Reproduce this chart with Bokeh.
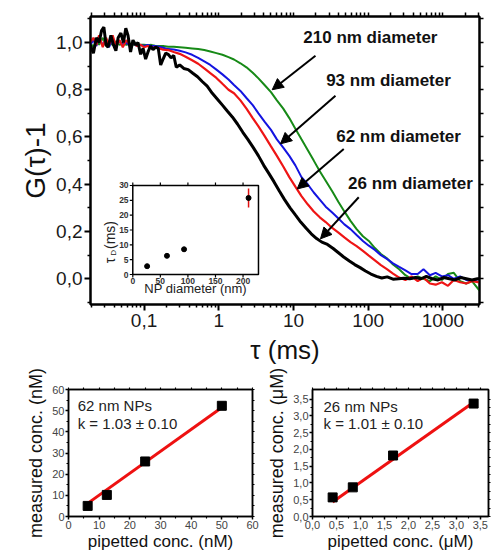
import math
from bokeh.plotting import figure
from bokeh.models import (FixedTicker, CustomJSTickFormatter, LogAxis, LinearAxis, Range1d,
                          LinearScale, Arrow, NormalHead, Label, Title)
from bokeh.layouts import column, row
from bokeh.core.properties import value
from bokeh.embed import file_html
from bokeh.resources import INLINE

FONT = "Liberation Sans"

# ---------------- main FCS curves ----------------
tau_black = [0.019, 0.021, 0.023, 0.025, 0.027, 0.029, 0.031, 0.033, 0.036, 0.039, 0.042, 0.045,
             0.049, 0.053, 0.057, 0.061, 0.066, 0.071, 0.077, 0.083, 0.090, 0.097, 0.105, 0.113,
             0.122, 0.132, 0.143, 0.155, 0.167, 0.18, 0.195, 0.21, 0.23, 0.25, 0.27, 0.30, 0.34,
             0.39, 0.45, 0.52, 0.60, 0.70, 0.82, 0.96, 1.12, 1.3, 1.52, 1.78, 2.1, 2.45, 2.9, 3.4,
             4.0, 4.7, 5.5, 6.5, 7.6, 9.0, 10.6, 12.5, 14.7, 17.3, 20.4, 24, 28.5, 34, 40, 47, 56,
             66, 78, 92, 109, 129, 152, 180, 215, 255, 300, 360, 430, 510, 600, 720, 860, 1020,
             1220, 1450, 1730, 2060, 2450, 2900, 3090]
g_26nm = [0.99, 0.955, 1.02, 1.00, 1.05, 1.065, 0.99, 0.98, 1.03, 0.99, 0.965, 1.02,
          1.04, 1.00, 1.06, 1.03, 0.96, 1.01, 0.99, 1.00, 0.95, 0.975, 0.93, 0.96,
          0.985, 0.97, 0.98, 0.975, 0.905, 0.93, 0.955, 0.95, 0.935, 0.945, 0.895, 0.905, 0.89,
          0.885, 0.87, 0.855, 0.835, 0.815, 0.785, 0.76, 0.735, 0.71, 0.685, 0.655, 0.62, 0.59, 0.555, 0.52,
          0.48, 0.445, 0.41, 0.37, 0.335, 0.30, 0.27, 0.24, 0.215, 0.19, 0.17, 0.155, 0.145, 0.128, 0.11, 0.092, 0.075,
          0.06, 0.047, 0.033, 0.02, 0.01, 0.003, 0.008, -0.002, 0.0, 0.002, 0.0, 0.005, 0.0, 0.01, 0.0, -0.005, 0.005,
          0.0, -0.005, 0.005, 0.0, -0.005, 0.0, 0.0]

tau_grid = [0.019, 0.021, 0.023, 0.025, 0.028, 0.031, 0.034, 0.038, 0.042, 0.047, 0.052, 0.058,
            0.065, 0.072, 0.08, 0.09, 0.1, 0.112, 0.125, 0.14, 0.16, 0.18, 0.21, 0.25, 0.3, 0.36,
            0.44, 0.53, 0.64, 0.77, 0.93, 1.12, 1.35, 1.6, 1.95, 2.35, 2.85, 3.4, 4.1, 5.0, 6.0,
            7.3, 8.8, 10.6, 12.8, 15.5, 18.7, 22.5, 27, 33, 40, 48, 58, 70, 85, 102, 123, 148,
            180, 215, 260, 315, 380, 460, 550, 670, 800, 970, 1170, 1400, 1700, 2050, 2450, 3090]
g_62nm = [1.0, 1.02, 0.99, 1.03, 0.98, 1.02, 0.99, 1.03, 0.985, 1.01, 0.98, 1.01,
          0.99, 1.0, 0.985, 0.99, 0.98, 0.985, 0.975, 0.98, 0.975, 0.97, 0.968, 0.96, 0.952, 0.94,
          0.925, 0.91, 0.89, 0.87, 0.85, 0.825, 0.80, 0.785, 0.755, 0.72, 0.68, 0.645, 0.605, 0.56, 0.52,
          0.475, 0.43, 0.39, 0.35, 0.315, 0.285, 0.26, 0.24, 0.215, 0.195, 0.175, 0.155, 0.138, 0.118, 0.098, 0.078, 0.058,
          0.04, 0.022, 0.005, -0.005, 0.01, -0.01, 0.005, -0.02, -0.025, -0.015, -0.03, -0.005, -0.015, -0.02, -0.01, -0.015]
g_93nm = [0.99, 1.01, 0.985, 1.02, 0.99, 1.01, 0.98, 1.015, 0.99, 1.005, 0.99, 1.0,
          0.985, 0.995, 0.985, 0.99, 0.985, 0.99, 0.985, 0.985, 0.982, 0.978, 0.972, 0.97, 0.965, 0.958,
          0.948, 0.935, 0.92, 0.905, 0.885, 0.865, 0.843, 0.82, 0.795, 0.765, 0.735, 0.70, 0.665, 0.63, 0.59,
          0.555, 0.52, 0.48, 0.43, 0.40, 0.365, 0.335, 0.305, 0.28, 0.255, 0.23, 0.21, 0.185, 0.16, 0.14, 0.122, 0.10,
          0.083, 0.065, 0.05, 0.035, 0.02, 0.02, 0.04, 0.015, 0.025, 0.01, 0.015, 0.0, 0.01, -0.005, -0.01, 0.0]
g_210nm = [1.0, 0.98, 1.01, 0.99, 1.02, 0.985, 1.0, 0.99, 1.005, 0.99, 0.995, 0.99,
           0.995, 0.99, 0.992, 0.99, 0.99, 0.988, 0.99, 0.986, 0.985, 0.985, 0.982, 0.982, 0.98, 0.978,
           0.975, 0.972, 0.968, 0.962, 0.955, 0.948, 0.938, 0.928, 0.912, 0.895, 0.872, 0.848, 0.82, 0.79, 0.755,
           0.72, 0.68, 0.635, 0.59, 0.545, 0.50, 0.455, 0.415, 0.37, 0.325, 0.285, 0.245, 0.21, 0.18, 0.16, 0.13, 0.105,
           0.085, 0.06, 0.04, 0.015, 0.0, 0.01, 0.0, -0.01, 0.01, -0.005, 0.02, 0.025, -0.01, -0.02, -0.01, -0.05]

curve_labels = ["210 nm diameter", "93 nm diameter", "62 nm diameter", "26 nm diameter"]

x_ticks = [0.1, 1, 10, 100, 1000]
x_tick_labels = ["0,1", "1", "10", "100", "1000"]
x_minor = [m * 10.0 ** e for e in range(-2, 4) for m in range(2, 10)]
y_ticks = [0.0, 0.2, 0.4, 0.6, 0.8, 1.0]
y_tick_labels = ["0,0", "0,2", "0,4", "0,6", "0,8", "1,0"]
y_minor = [-0.1, 0.1, 0.3, 0.5, 0.7, 0.9, 1.1]

# ---------------- inset ----------------
inset_diam = [26, 62, 93, 210]
inset_tauD = [2.8, 6.3, 8.5, 25.8]
inset_err = [0.3, 0.4, 0.8, 3.2]
inset_x_ticks = [0, 50, 100, 150, 200]
inset_y_ticks = [0, 5, 10, 15, 20, 25, 30]

# ---------------- bottom panels ----------------
pip_62 = [6.25, 12.5, 25, 50]
meas_62 = [5.0, 10.2, 26.0, 52.3]
fit62_x = [6.25, 50]
fit62_y = [6.2, 51.5]
pip_26 = [0.42, 0.84, 1.68, 3.36]
meas_26 = [0.57, 0.87, 1.82, 3.37]
fit26_x = [0.42, 3.36]
fit26_y = [0.43, 3.41]
b1_ticks = [0, 10, 20, 30, 40, 50, 60]
b1_labels = ["0", "10", "20", "30", "40", "50", "60"]
b2_ticks = [0.0, 0.5, 1.0, 1.5, 2.0, 2.5, 3.0, 3.5]
b2_labels = ["0,0", "0,5", "1,0", "1,5", "2,0", "2,5", "3,0", "3,5"]


def fmt(ticks, labels):
    return CustomJSTickFormatter(args=dict(tv=ticks, tl=labels), code="""
        for (let i = 0; i < tv.length; i++) {
            if (Math.abs(tv[i] - tick) <= 1e-6 * Math.max(1e-3, Math.abs(tv[i]))) return tl[i];
        }
        return "";
    """)


def style(ax, ticks, minor, labels, size, show=True, tick_out=6, minor_out=3, lw=2.0,
          color="#1a1a1a", standoff=2):
    if show:
        ax.ticker = FixedTicker(ticks=ticks, minor_ticks=minor)
        ax.formatter = fmt(ticks, labels)
        ax.major_tick_out = tick_out
        ax.major_label_text_font_size = size
        ax.major_label_standoff = standoff
        ax.minor_tick_out = minor_out
    else:
        # mirror axis: ticks only, no labels
        ax.ticker = FixedTicker(ticks=[], minor_ticks=list(ticks) + list(minor))
        ax.major_tick_out = 0
        ax.major_label_standoff = 0
        ax.minor_tick_out = int(round((tick_out + minor_out) / 2))
    ax.major_tick_in = 0
    ax.minor_tick_in = 0
    ax.axis_line_width = lw
    ax.major_tick_line_width = lw
    ax.minor_tick_line_width = lw * 0.75
    ax.major_label_text_font = FONT
    ax.major_label_text_color = color
    ax.axis_label_text_font = FONT
    ax.axis_label_text_font_style = "normal"
    ax.axis_label_text_color = "#111"


# ================= main figure =================
p = figure(x_axis_type="log", x_range=Range1d(0.0192, 3090), y_range=Range1d(-0.109, 1.110),
           frame_width=389, frame_height=288, min_border_left=90, min_border_right=14,
           min_border_top=16, min_border_bottom=0, output_backend="svg", toolbar_location=None)
p.xgrid.visible = False
p.ygrid.visible = False
p.outline_line_color = "black"
p.outline_line_width = 2
p.background_fill_color = "white"
p.border_fill_color = "white"

style(p.xaxis[0], x_ticks, x_minor, x_tick_labels, "19px", standoff=3)
p.xaxis[0].axis_label = "τ (ms)"
p.xaxis[0].axis_label_text_font_size = "26px"
p.xaxis[0].axis_label_standoff = 5
style(p.yaxis[0], y_ticks, y_minor, y_tick_labels, "19px", standoff=2)

# y-axis title as a side title, centred on the whole side as in the original
p.add_layout(Title(text="G(τ)-1", align="center", offset=0, standoff=6, text_font=FONT,
                   text_font_size="28px", text_font_style="normal", text_color="#111"), "left")

top_ax = LogAxis()
style(top_ax, x_ticks, x_minor, x_tick_labels, "19px", show=False)
p.add_layout(top_ax, "above")
right_ax = LinearAxis()
style(right_ax, y_ticks, y_minor, y_tick_labels, "19px", show=False)
p.add_layout(right_ax, "right")

p.line(tau_grid, g_210nm, line_color="#178a17", line_width=2)
p.line(tau_grid, g_93nm, line_color="#1414e0", line_width=2)
p.line(tau_grid, g_62nm, line_color="#ee1515", line_width=2.2)
p.line(tau_black, g_26nm, line_color="black", line_width=3)

# arrows and labels
arrow_specs = [((19.7, 0.944), (5.19, 0.80)),
               ((36.5, 0.775), (6.7, 0.571)),
               ((47.1, 0.549), (11.2, 0.380)),
               ((74.8, 0.345), (23.0, 0.169))]
label_pos = [(107, 1.02), (187, 0.838), (255, 0.601), (368, 0.403)]
for (s, e), lab, pos in zip(arrow_specs, curve_labels, label_pos):
    p.add_layout(Arrow(end=NormalHead(size=11, fill_color="black", line_color="black", line_width=1),
                       x_start=s[0], y_start=s[1], x_end=e[0], y_end=e[1],
                       line_color="black", line_width=2))
    p.add_layout(Label(x=pos[0], y=pos[1], text=lab, text_font=FONT, text_font_style="bold",
                       text_font_size="17px", text_align="center", text_baseline="middle",
                       text_color="#111"))

# ---- inset drawn with its own linear scales inside the main frame ----
p.extra_x_ranges = {"ix": Range1d(-76.7, 628.9)}
p.extra_x_scales = {"ix": LinearScale()}
p.extra_y_ranges = {"iy": Range1d(-10.11, 86.96)}
IX = dict(x_range_name="ix", y_range_name="iy")
ix_len = 3 / 0.5513
iy_len = 3 / 2.967
in_xmax, in_ymax = 228, 30
p.quad(left=[0], right=[in_xmax], bottom=[0], top=[in_ymax], fill_color="white",
       line_color="black", line_width=1.5, **IX)
# ticks
p.segment(x0=[-ix_len] * len(inset_y_ticks), x1=[0] * len(inset_y_ticks), y0=inset_y_ticks,
          y1=inset_y_ticks, line_color="black", line_width=1.2, **IX)
p.segment(x0=inset_x_ticks, x1=inset_x_ticks, y0=[-iy_len] * len(inset_x_ticks),
          y1=[0] * len(inset_x_ticks), line_color="black", line_width=1.2, **IX)
p.segment(x0=inset_x_ticks, x1=inset_x_ticks, y0=[in_ymax] * len(inset_x_ticks),
          y1=[in_ymax + iy_len] * len(inset_x_ticks), line_color="black", line_width=1.2, **IX)
p.text(x=[-ix_len * 1.4] * len(inset_y_ticks), y=inset_y_ticks, text=[str(t) for t in inset_y_ticks],
       text_font=value(FONT), text_font_size=value("8.5px"), text_font_style="bold",
       text_align="right", text_baseline="middle", text_color="#333", **IX)
p.text(x=inset_x_ticks, y=[-iy_len * 1.2] * len(inset_x_ticks), text=[str(t) for t in inset_x_ticks],
       text_font=value(FONT), text_font_size=value("8.5px"), text_font_style="bold",
       text_align="center", text_baseline="top", text_color="#333", **IX)
p.text(x=[in_xmax / 2], y=[-2.2], text=["NP diameter (nm)"], text_font=value(FONT),
       text_font_size=value("13px"), text_align="center", text_baseline="top", text_color="#222", **IX)
# tau_D (ms) rotated
p.text(x=[-41.0], y=[3.8], text=["τ"], angle=math.pi / 2, text_font=value(FONT),
       text_font_size=value("14px"), text_align="left", text_baseline="middle", text_color="#222", **IX)
p.text(x=[-35.5], y=[6.3], text=["D"], angle=math.pi / 2, text_font=value(FONT),
       text_font_size=value("8px"), text_align="left", text_baseline="middle", text_color="#222", **IX)
p.text(x=[-41.0], y=[8.6], text=[" (ms)"], angle=math.pi / 2, text_font=value(FONT),
       text_font_size=value("14px"), text_align="left", text_baseline="middle", text_color="#222", **IX)
# data
p.segment(x0=inset_diam, x1=inset_diam, y0=[t - e for t, e in zip(inset_tauD, inset_err)],
          y1=[t + e for t, e in zip(inset_tauD, inset_err)], line_color="#e01010", line_width=1.5, **IX)
p.scatter(inset_diam, inset_tauD, size=5, marker="circle", fill_color="black", line_color="black", **IX)


# ================= bottom panels =================
def bottom_fig(xr, yr, fw, left, right, ticks, labels, minor, xlab, ylab):
    f = figure(x_range=Range1d(*xr), y_range=Range1d(*yr), frame_width=fw, height=186,
               min_border_left=left, min_border_right=right, min_border_top=22, min_border_bottom=0,
               output_backend="svg", toolbar_location=None)
    f.xgrid.visible = False
    f.ygrid.visible = False
    f.outline_line_color = "black"
    f.outline_line_width = 1.5
    style(f.xaxis[0], ticks, minor, labels, "11px", tick_out=3, minor_out=2, lw=1.5,
          color="#444", standoff=1)
    f.xaxis[0].axis_label = xlab
    f.xaxis[0].axis_label_text_font_size = "17px"
    f.xaxis[0].axis_label_standoff = 0
    style(f.yaxis[0], ticks, minor, labels, "11px", tick_out=3, minor_out=2, lw=1.5,
          color="#444", standoff=1)
    f.yaxis[0].axis_label = ylab
    f.yaxis[0].axis_label_text_font_size = "18px"
    f.yaxis[0].axis_label_standoff = 3
    ta = LinearAxis()
    style(ta, ticks, minor, labels, "11px", show=False, tick_out=3, minor_out=2, lw=1.5)
    f.add_layout(ta, "above")
    ra = LinearAxis()
    style(ra, ticks, minor, labels, "11px", show=False, tick_out=3, minor_out=2, lw=1.5)
    f.add_layout(ra, "right")
    return f


b1 = bottom_fig((0, 60), (0, 60), 184, 68, 8, b1_ticks, b1_labels, [5, 15, 25, 35, 45, 55],
                "pipetted conc. (nM)", "measured conc. (nM)")
b1.line(fit62_x, fit62_y, line_color="#ee1111", line_width=3)
b1.scatter(pip_62, meas_62, marker="square", size=9, fill_color="black", line_color="black")
b1.add_layout(Label(x=3, y=52.5, text="62 nm NPs", text_font=FONT, text_font_size="15px",
                    text_baseline="middle", text_color="#222"))
b1.add_layout(Label(x=3, y=44.0, text="k = 1.03 ± 0.10", text_font=FONT, text_font_size="15px",
                    text_baseline="middle", text_color="#222"))

b2 = bottom_fig((0, 3.67), (0, 3.79), 176, 52, 5, b2_ticks, b2_labels,
                [0.25, 0.75, 1.25, 1.75, 2.25, 2.75, 3.25],
                "pipetted conc. (μM)", "measured conc. (μM)")
b2.line(fit26_x, fit26_y, line_color="#ee1111", line_width=3)
b2.scatter(pip_26, meas_26, marker="square", size=9, fill_color="black", line_color="black")
b2.add_layout(Label(x=0.23, y=3.27, text="26 nm NPs", text_font=FONT, text_font_size="15px",
                    text_baseline="middle", text_color="#222"))
b2.add_layout(Label(x=0.23, y=2.78, text="k = 1.01 ± 0.10", text_font=FONT, text_font_size="15px",
                    text_baseline="middle", text_color="#222"))

layout = column(p, row(b1, b2))
open("out.html", "w").write(file_html(layout, INLINE))
